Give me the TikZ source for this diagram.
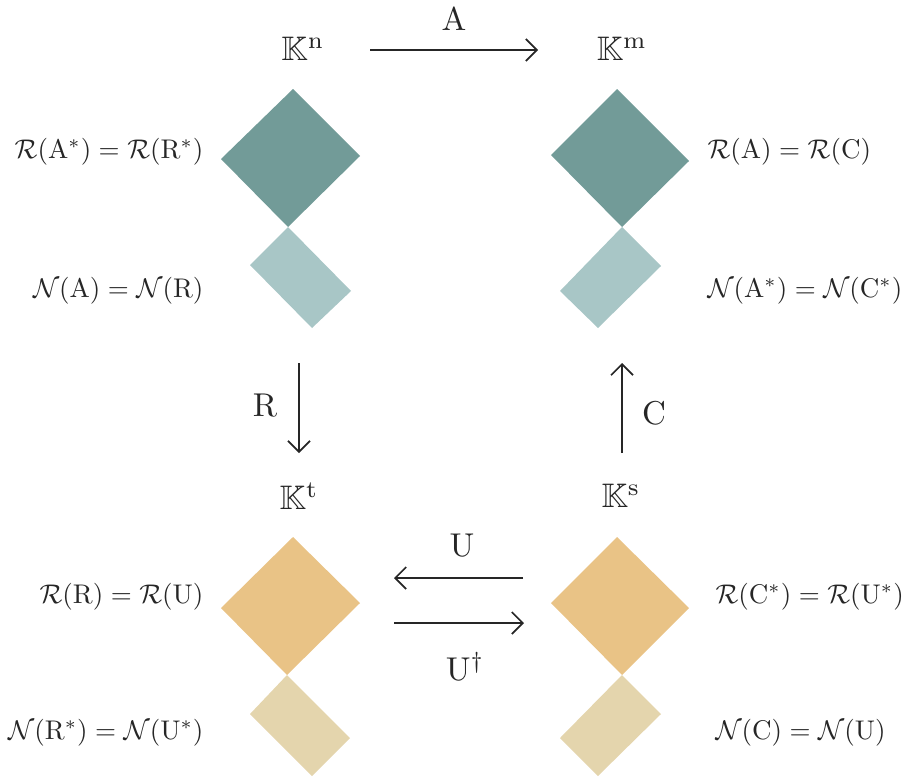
\documentclass[tikz,border=0pt]{standalone}
\usepackage{amssymb}
\usetikzlibrary{arrows.meta}
\definecolor{tealdark}{HTML}{729B98}
\definecolor{teallight}{HTML}{A8C6C6}
\definecolor{orangedark}{HTML}{E9C386}
\definecolor{beigelight}{HTML}{E4D5AD}
\definecolor{ink}{HTML}{262626}
\begin{document}
\begin{tikzpicture}[x=1pt,y=-1pt,
  lbl/.style={scale=2.7,inner sep=0pt,text=ink},
  spacelbl/.style={scale=3.4,inner sep=0pt,text=ink},
  maplbl/.style={scale=3.3,inner sep=0pt,text=ink},
  maparrow/.style={draw=ink,line width=1.7pt,-{Straight Barb[length=11pt,width=22pt]}}]
\useasboundingbox (0,0) rectangle (907,779);

% top-left group
\fill[tealdark] (293,89) -- (360,156) -- (288,227) -- (221,159) -- cycle;
\fill[teallight] (288,227) -- (351,291) -- (312,328) -- (250,265) -- cycle;
% top-right group
\fill[tealdark] (617,89) -- (689,161) -- (622,227) -- (551,155) -- cycle;
\fill[teallight] (622,227) -- (661,266) -- (598,328) -- (560,291) -- cycle;
% bottom-left group
\fill[orangedark] (293,537) -- (360,603) -- (287,675) -- (221,608) -- cycle;
\fill[beigelight] (287,675) -- (350,738) -- (312,776) -- (250,714) -- cycle;
% bottom-right group
\fill[orangedark] (617,537) -- (689,608) -- (622,675) -- (551,603) -- cycle;
\fill[beigelight] (622,675) -- (661,714) -- (598,776) -- (560,738) -- cycle;

% spaces
\node[spacelbl] (Kn) at (303,49) {$\mathbb{K}^{\mathrm{n}}$};
\node[spacelbl] (Km) at (622,49) {$\mathbb{K}^{\mathrm{m}}$};
\node[spacelbl] (Kt) at (299,496) {$\mathbb{K}^{\mathrm{t}}$};
\node[spacelbl] (Ks) at (621,496) {$\mathbb{K}^{\mathrm{s}}$};

% subspace labels
\node[lbl,anchor=east] (RAs) at (204,152) {$\mathcal{R}(\mathrm{A}^{*}) = \mathcal{R}(\mathrm{R}^{*})$};
\node[lbl,anchor=east] (NA) at (204,291) {$\mathcal{N}(\mathrm{A}) = \mathcal{N}(\mathrm{R})$};
\node[lbl,anchor=west] (RA) at (707,152) {$\mathcal{R}(\mathrm{A}) = \mathcal{R}(\mathrm{C})$};
\node[lbl,anchor=west] (NAs) at (707,291) {$\mathcal{N}(\mathrm{A}^{*}) = \mathcal{N}(\mathrm{C}^{*})$};
\node[lbl,anchor=east] (RR) at (204,597) {$\mathcal{R}(\mathrm{R}) = \mathcal{R}(\mathrm{U})$};
\node[lbl,anchor=east] (NRs) at (204,733) {$\mathcal{N}(\mathrm{R}^{*}) = \mathcal{N}(\mathrm{U}^{*})$};
\node[lbl,anchor=west] (RCs) at (715,597) {$\mathcal{R}(\mathrm{C}^{*}) = \mathcal{R}(\mathrm{U}^{*})$};
\node[lbl,anchor=west] (NC) at (715,733) {$\mathcal{N}(\mathrm{C}) = \mathcal{N}(\mathrm{U})$};

% arrow end points
\coordinate (a1) at (370,50);  \coordinate (a2) at (538,50);
\coordinate (r1) at (299,363); \coordinate (r2) at (299,453);
\coordinate (c1) at (622,453); \coordinate (c2) at (622,363);
\coordinate (u1) at (523,578); \coordinate (u2) at (394,578);
\coordinate (d1) at (394,623); \coordinate (d2) at (524,623);

\draw[maparrow] (a1) -- (a2);
\draw[maparrow] (r1) -- (r2);
\draw[maparrow] (c1) -- (c2);
\draw[maparrow] (u1) -- (u2);
\draw[maparrow] (d1) -- (d2);

% map labels
\node[maplbl] (Alab) at (454,19) {$\mathrm{A}$};
\node[maplbl] (Rlab) at (265,405) {$\mathrm{R}$};
\node[maplbl] (Clab) at (654,413) {$\mathrm{C}$};
\node[maplbl] (Ulab) at (462,545) {$\mathrm{U}$};
\node[maplbl] (Udlab) at (465,666) {$\mathrm{U}^{\dagger}$};
\end{tikzpicture}
\end{document}
